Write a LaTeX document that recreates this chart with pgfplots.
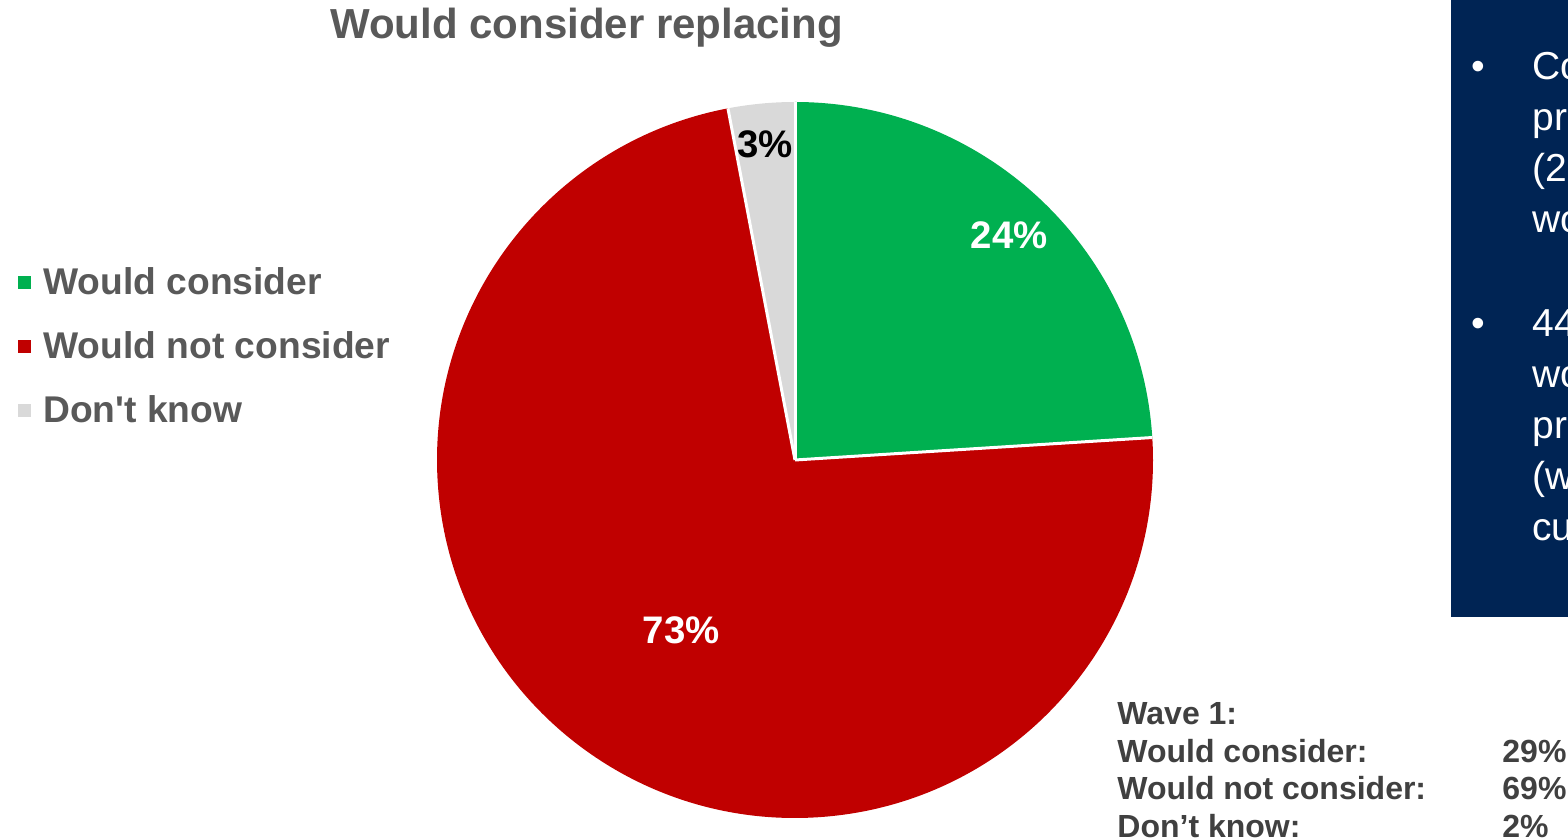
\documentclass[border=0pt]{standalone}
\usepackage{pgfplots}
\pgfplotsset{compat=1.18}
\usepackage{pgfplotstable}
\usepackage{fontspec}
\setmainfont{Liberation Sans}[Ligatures=TeXOff]
\definecolor{cgreen}{RGB}{0,176,80}
\definecolor{cred}{RGB}{192,0,0}
\definecolor{cgray}{RGB}{217,217,217}
\definecolor{navy}{RGB}{0,36,84}
\definecolor{txtgray}{RGB}{89,89,89}
\definecolor{wavegray}{RGB}{64,64,64}

\pgfplotstableread{
label value
consider 24
notconsider 73
dontknow 3
}\piedata

\begin{document}
\begin{tikzpicture}
\useasboundingbox (0,0) rectangle (784pt,420pt);
\clip (0,0) rectangle (784pt,420pt);
\pgfplotstablegetelem{0}{value}\of\piedata \pgfmathsetmacro\vA{\pgfplotsretval}
\pgfplotstablegetelem{1}{value}\of\piedata \pgfmathsetmacro\vB{\pgfplotsretval}
\pgfplotstablegetelem{2}{value}\of\piedata \pgfmathsetmacro\vC{\pgfplotsretval}
\pgfmathsetmacro\aA{90}
\pgfmathsetmacro\aB{\aA-3.6*\vA}
\pgfmathsetmacro\aC{\aB-3.6*\vB}
\pgfmathsetmacro\aD{\aC-3.6*\vC}
\begin{axis}[hide axis, scale only axis, width=358pt, height=358pt,
  xmin=-1, xmax=1, ymin=-1, ymax=1, at={(397.5pt,190pt)}, anchor=origin, clip=false]
\fill[cgreen] (axis cs:0,0) -- (axis cs:{cos(\aA)},{sin(\aA)}) arc[start angle=\aA, end angle=\aB, radius=179pt] -- cycle;
\fill[cred] (axis cs:0,0) -- (axis cs:{cos(\aB)},{sin(\aB)}) arc[start angle=\aB, end angle=\aC, radius=179pt] -- cycle;
\fill[cgray] (axis cs:0,0) -- (axis cs:{cos(\aC)},{sin(\aC)}) arc[start angle=\aC, end angle=\aD, radius=179pt] -- cycle;
\draw[white, line width=1.5pt] (axis cs:0,0) -- (axis cs:{cos(\aA)},{sin(\aA)});
\draw[white, line width=1.5pt] (axis cs:0,0) -- (axis cs:{cos(\aB)},{sin(\aB)});
\draw[white, line width=1.5pt] (axis cs:0,0) -- (axis cs:{cos(\aC)},{sin(\aC)});
\node[white, font=\bfseries\fontsize{19.2}{22}\selectfont] at (axis cs:0.598,0.628) {24\%};
\node[white, font=\bfseries\fontsize{19.2}{22}\selectfont] at (axis cs:-0.318,-0.475) {73\%};
\node[black, font=\bfseries\fontsize{19.2}{22}\selectfont] at (axis cs:-0.084,0.883) {3\%};
\end{axis}

% title
\node[anchor=base, txtgray, font=\bfseries\fontsize{21}{25}\selectfont] at (293.25pt,400.5pt) {Would consider replacing};

% legend
\fill[cgreen] (8.75pt,275.25pt) rectangle ++(6.5pt,6.5pt);
\fill[cred] (8.75pt,243.25pt) rectangle ++(6.5pt,6.5pt);
\fill[cgray] (8.75pt,211.25pt) rectangle ++(6.5pt,6.5pt);
\begin{scope}[every node/.style={anchor=base west, inner sep=0pt, txtgray, font=\bfseries\fontsize{18.6}{22}\selectfont}]
\node at (21.5pt,272.5pt) {Would consider};
\node at (21.5pt,240.5pt) {Would not consider};
\node at (21.5pt,208.5pt) {Don't know};
\end{scope}

% wave 1
\begin{scope}[every node/.style={anchor=base west, inner sep=0pt, wavegray, font=\bfseries\fontsize{16}{19}\selectfont}]
\node at (558.5pt,57.5pt) {Wave 1:};
\node at (558.5pt,38.5pt) {Would consider:};
\node at (751pt,38.5pt) {29\%};
\node at (558.5pt,20pt) {Would not consider:};
\node at (751pt,20pt) {69\%};
\node at (558.5pt,1pt) {Don’t know:};
\node at (751pt,1pt) {2\%};
\end{scope}

% navy box
\fill[navy] (725.5pt,111.5pt) rectangle (800pt,430pt);
\begin{scope}[every node/.style={anchor=base west, inner sep=0pt, white, font=\fontsize{19.5}{23}\selectfont}]
\node[anchor=base] at (739pt,380pt) {•};
\node at (766pt,380pt) {Co};
\node at (766pt,354.5pt) {pr};
\node at (766pt,329pt) {(2};
\node at (766pt,303.5pt) {wo};
\node[anchor=base] at (739pt,251.5pt) {•};
\node at (766pt,251.5pt) {44};
\node at (766pt,226pt) {wo};
\node at (766pt,200.5pt) {pr};
\node at (766pt,175pt) {(w};
\node at (766pt,149.5pt) {cu};
\end{scope}
\end{tikzpicture}
\end{document}
